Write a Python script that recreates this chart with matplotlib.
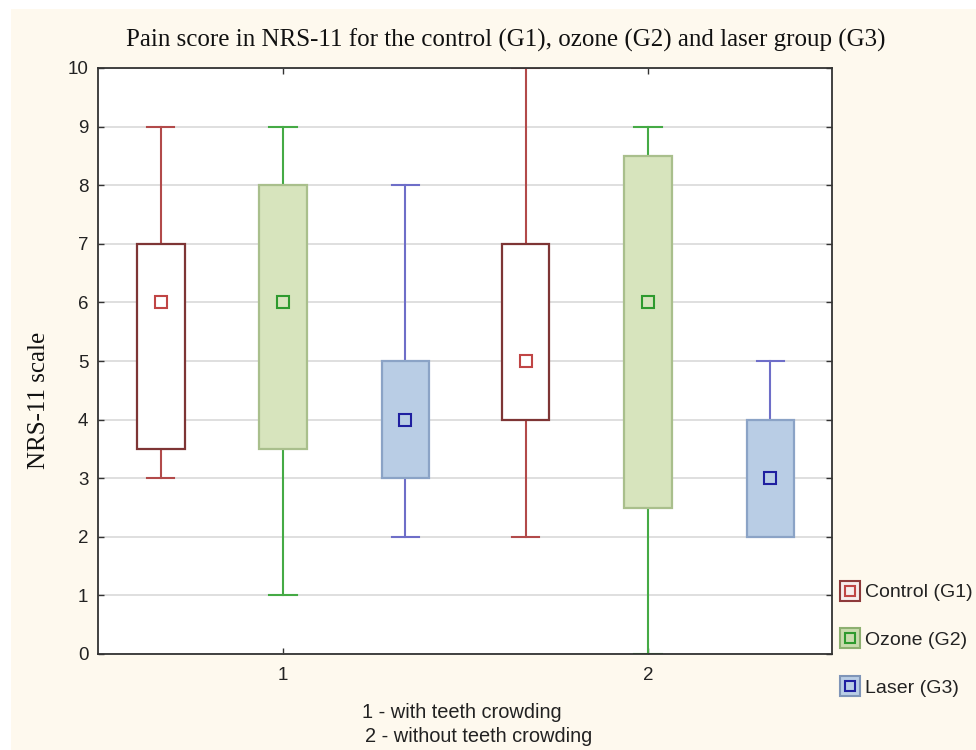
import matplotlib
matplotlib.use("Agg")
import matplotlib.pyplot as plt
from matplotlib.lines import Line2D
from matplotlib.patches import Rectangle

# ---- data ----
groups = [1, 2]
series = ["Control (G1)", "Ozone (G2)", "Laser (G3)"]
offsets = [-0.335, 0.0, 0.335]
medians = {"Control (G1)": [6, 5], "Ozone (G2)": [6, 6], "Laser (G3)": [4, 3]}
q1 = {"Control (G1)": [3.5, 4], "Ozone (G2)": [3.5, 2.5], "Laser (G3)": [3, 2]}
q3 = {"Control (G1)": [7, 7], "Ozone (G2)": [8, 8.5], "Laser (G3)": [5, 4]}
wlo = {"Control (G1)": [3, 2], "Ozone (G2)": [1, 0], "Laser (G3)": [2, 2]}
whi = {"Control (G1)": [9, 10], "Ozone (G2)": [9, 9], "Laser (G3)": [8, 5]}
yticks = list(range(0, 11))
note_lines = ["1 - with teeth crowding", "2 - without teeth crowding"]
title = "Pain score in NRS-11 for the control (G1), ozone (G2) and laser group (G3)"
ylabel = "NRS-11 scale"

styles = {
    "Control (G1)": dict(face="#FFFFFF", edge="#7E3535", whisk="#B24A4A", mark="#C04545",
                         lface="#F6ECEC", ledge="#8E3A3A"),
    "Ozone (G2)": dict(face="#D7E4BD", edge="#A9BF8C", whisk="#45AA45", mark="#2E9A2E",
                       lface="#C9DCAE", ledge="#8DB070"),
    "Laser (G3)": dict(face="#B9CDE5", edge="#8BA3C6", whisk="#6E6EC8", mark="#1F1FA0",
                       lface="#B9CDE5", ledge="#7F95B8"),
}

fig = plt.figure(figsize=(9.76, 7.5), dpi=100, facecolor="white")
fig.patches.append(Rectangle((11 / 976, 0), 1, 1 - 9 / 750, transform=fig.transFigure,
                             facecolor="#FEF9EE", edgecolor="none", zorder=-10))
ax = fig.add_axes([98 / 976, 96 / 750, 734 / 976, 586 / 750])
ax.set_facecolor("white")

for s, off in zip(series, offsets):
    st = styles[s]
    stats = []
    for i, g in enumerate(groups):
        stats.append(dict(med=medians[s][i], q1=q1[s][i], q3=q3[s][i],
                          whislo=wlo[s][i], whishi=whi[s][i], fliers=[]))
    pos = [g + off for g in groups]
    art = ax.bxp(stats, positions=pos, widths=0.13, capwidths=0.075, patch_artist=True,
                 showfliers=False, manage_ticks=False,
                 boxprops=dict(facecolor=st["face"], edgecolor=st["edge"], linewidth=1.6),
                 whiskerprops=dict(color=st["whisk"], linewidth=1.5),
                 capprops=dict(color=st["whisk"], linewidth=1.5),
                 medianprops=dict(visible=False))
    for b in art["boxes"]:
        b.set_zorder(3)
    # hide caps that coincide with box edges
    for i in range(len(groups)):
        if wlo[s][i] == q1[s][i]:
            art["caps"][2 * i].set_visible(False)
    ax.plot(pos, medians[s], linestyle="none", marker="s", markersize=8,
            markerfacecolor="none", markeredgecolor=st["mark"], markeredgewidth=1.5, zorder=4)

ax.set_xlim(0.493, 2.504)
ax.set_ylim(0, 10)
ax.set_yticks(yticks)
ax.set_xticks(groups)
ax.set_xticklabels([str(g) for g in groups])
ax.yaxis.grid(True, color="#DCDCDC", linewidth=1.3)
ax.set_axisbelow(True)
ax.tick_params(direction="in", length=4, width=1, colors="#333333", top=True, right=True,
               labelsize=13.5, labelcolor="#222222")
ax.tick_params(axis="x", pad=9)
ax.tick_params(axis="y", pad=7)
for lab in ax.get_xticklabels() + ax.get_yticklabels():
    lab.set_family("Liberation Sans")
for sp in ax.spines.values():
    sp.set_color("#333333")
    sp.set_linewidth(1.3)

ax.set_ylabel(ylabel, family="Liberation Serif", fontsize=18, color="#111111")
ax.yaxis.set_label_coords(-0.066, 0.433)

fig.text(506 / 976, 1 - 40 / 750, title, ha="center", va="center",
         family="Liberation Serif", fontsize=18, color="#111111")

fig.text(362 / 976, 1 - 712 / 750, note_lines[0], ha="left", va="center",
         family="Liberation Sans", fontsize=14.4, color="#222222")
fig.text(365 / 976, 1 - 737 / 750, note_lines[1], ha="left", va="center",
         family="Liberation Sans", fontsize=14.4, color="#222222")

handles = []
for s in series:
    st = styles[s]
    outer = Line2D([], [], linestyle="none", marker="s", markersize=14,
                   markerfacecolor=st["lface"], markeredgecolor=st["ledge"], markeredgewidth=1.5)
    inner = Line2D([], [], linestyle="none", marker="s", markersize=7,
                   markerfacecolor="none", markeredgecolor=st["mark"], markeredgewidth=1.5)
    handles.append((outer, inner))
leg = fig.legend(handles, series, loc="upper left", bbox_to_anchor=(832 / 976, 1 - 576 / 750),
                 frameon=False, handlelength=1.0, handletextpad=0.3, labelspacing=1.55,
                 borderaxespad=0.0, prop=dict(family="Liberation Sans", size=14))
for t in leg.get_texts():
    t.set_color("#222222")

fig.savefig("out.png", dpi=100, facecolor=fig.get_facecolor())
